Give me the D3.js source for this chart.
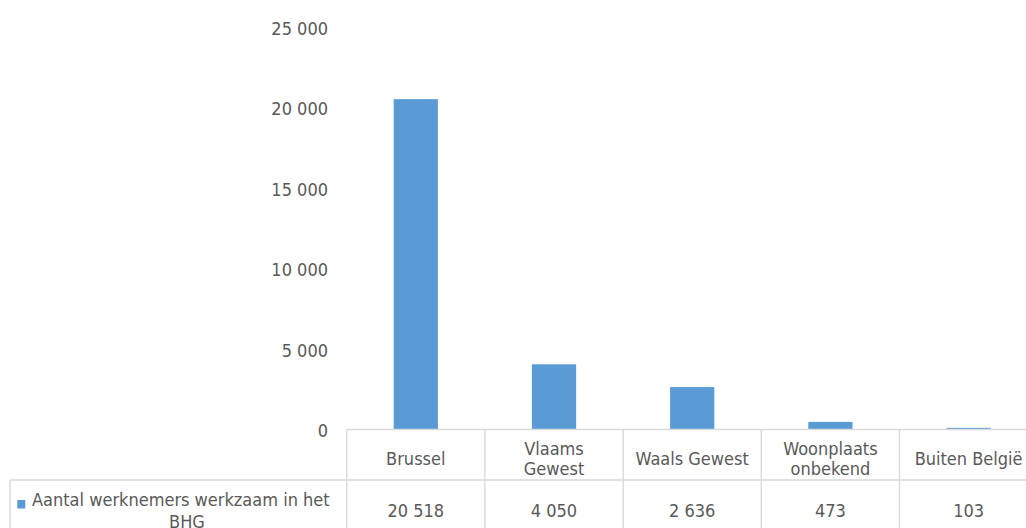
<!DOCTYPE html>
<html>
<head>
<meta charset="utf-8">
<script src="https://cdn.jsdelivr.net/npm/d3@7"></script>
<style>
  html, body { margin: 0; padding: 0; background: #fff; overflow: hidden; }
  svg { display: block; }
  text { font-family: "DejaVu Sans Condensed", "DejaVu Sans", sans-serif; font-stretch: condensed; fill: #595959; }
</style>
</head>
<body>
<svg id="chart" width="1026" height="528"></svg>
<script>
// Werknemers werkzaam in het BHG, naar woonplaats
const categories = [["Brussel"], ["Vlaams", "Gewest"], ["Waals Gewest"], ["Woonplaats", "onbekend"], ["Buiten België"]];
const values = [20518, 4050, 2636, 473, 103];
const valueLabels = ["20 518", "4 050", "2 636", "473", "103"];
const yTicks = [0, 5000, 10000, 15000, 20000, 25000];
const seriesName = ["Aantal werknemers werkzaam in het", "BHG"];

const svg = d3.select("#chart");
const fontSize = 18;
const fontFamily = "'DejaVu Sans Condensed', 'DejaVu Sans', sans-serif";
const barColor = "#5b9bd5";
const lineColor = "#d9d9d9";

const plotLeft = 346.7, cellW = 138.2;
const plotRight = plotLeft + cellW * categories.length;
const yZero = 429.5, yTop = 27;
const rowMid = 480, tableBottom = 540;
const legendLeft = 10;

const x = d3.scaleBand()
  .domain(d3.range(categories.length))
  .range([plotLeft, plotRight])
  .paddingInner(0.68)
  .paddingOuter(0.34);

const y = d3.scaleLinear().domain([0, 25000]).range([yZero, yTop]);

const fmt = d => d3.format(",")(d).replace(/,/g, " ");

// y axis labels, no line or ticks
const yAxis = d3.axisLeft(y).tickValues(yTicks).tickFormat(fmt).tickSize(0).tickPadding(0);
const gy = svg.append("g").attr("transform", "translate(328,0)").call(yAxis);
gy.select(".domain").remove();
gy.selectAll("text")
  .attr("dy", "0.4em")
  .style("font-size", fontSize + "px")
  .style("font-family", fontFamily)
  .attr("fill", "#595959");

// bars
svg.append("g").selectAll("rect")
  .data(values)
  .join("rect")
  .attr("x", (d, i) => x(i))
  .attr("width", x.bandwidth())
  .attr("y", d => y(d))
  .attr("height", d => y(0) - y(d))
  .attr("fill", barColor);

// data table
const grid = svg.append("g").attr("stroke", lineColor).attr("stroke-width", 1.4).attr("fill", "none");
grid.append("line").attr("x1", plotLeft).attr("x2", plotRight).attr("y1", yZero).attr("y2", yZero);
grid.append("line").attr("x1", legendLeft).attr("x2", plotRight).attr("y1", rowMid).attr("y2", rowMid);
grid.append("line").attr("x1", legendLeft).attr("x2", legendLeft).attr("y1", rowMid).attr("y2", tableBottom);
d3.range(categories.length + 1).forEach(i => {
  const xx = plotLeft + i * cellW;
  grid.append("line").attr("x1", xx).attr("x2", xx).attr("y1", yZero).attr("y2", tableBottom);
});

// category headers
const head = svg.append("g").style("font-size", fontSize + "px").attr("text-anchor", "middle");
categories.forEach((lines, i) => {
  const cx = plotLeft + (i + 0.5) * cellW;
  const lh = 20;
  const startY = 464.5 - (lines.length - 1) * lh / 2;
  lines.forEach((t, j) => {
    head.append("text").attr("x", cx).attr("y", startY + j * lh).text(t);
  });
});

// values row
svg.append("g").style("font-size", fontSize + "px").attr("text-anchor", "middle")
  .selectAll("text")
  .data(valueLabels)
  .join("text")
  .attr("x", (d, i) => plotLeft + (i + 0.5) * cellW)
  .attr("y", 516.5)
  .text(d => d);

// legend cell
svg.append("rect").attr("x", 17.3).attr("y", 500).attr("width", 8).attr("height", 8.5).attr("fill", barColor);
svg.append("text").attr("x", 32).attr("y", 505.5).style("font-size", fontSize + "px").text(seriesName[0]);
svg.append("text").attr("x", 187).attr("y", 527.5).attr("text-anchor", "middle").style("font-size", fontSize + "px").text(seriesName[1]);
</script>
</body>
</html>
